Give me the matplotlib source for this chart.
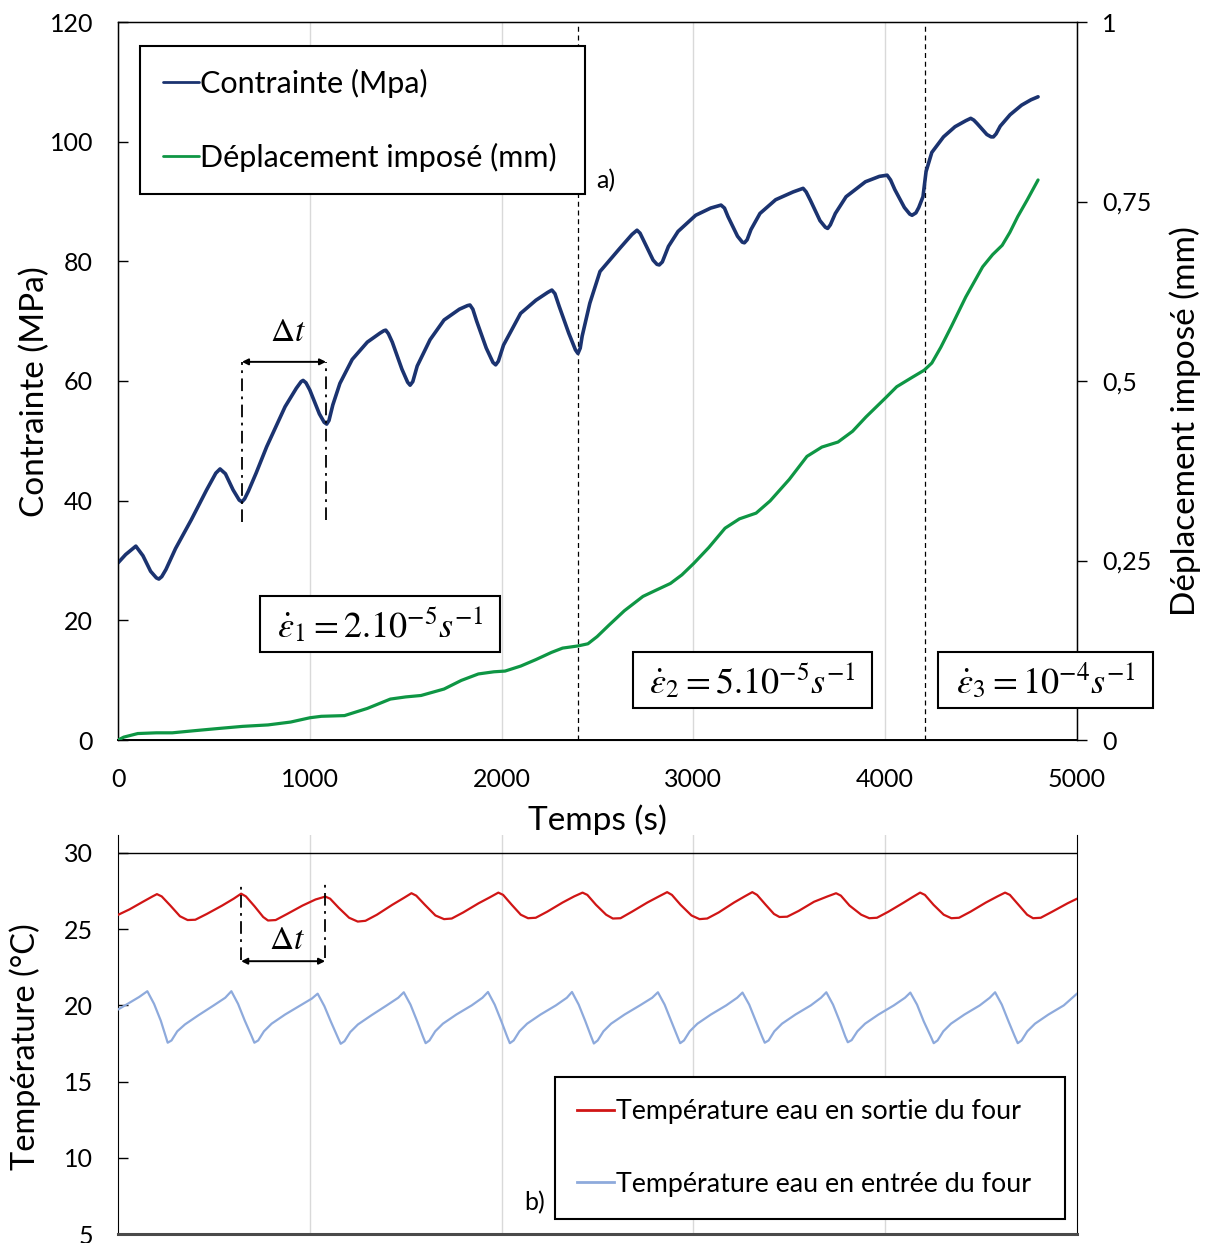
import matplotlib
matplotlib.use('Agg')
import matplotlib.pyplot as plt
from matplotlib.patches import Rectangle

# ---------------- data ----------------
stress_t = [0, 40, 93, 130, 170, 200, 213, 228, 250, 300, 382, 462, 510, 532, 560, 600, 632, 646, 660,
            680, 720, 775, 871, 930, 955, 965, 980, 1000, 1050, 1075, 1088, 1100, 1120, 1157, 1221, 1300,
            1366, 1386, 1396, 1410, 1430, 1480, 1510, 1523, 1537, 1560, 1627, 1700, 1780, 1822, 1835, 1850, 1870, 1920,
            1955, 1969, 1983, 2010, 2099, 2179, 2240, 2262, 2278, 2300, 2350, 2385, 2398, 2410, 2420, 2460, 2513,
            2617, 2680, 2706, 2722, 2740, 2790, 2810, 2822, 2838, 2870, 2920, 3012, 3090, 3144, 3162, 3180,
            3230, 3255, 3266, 3280, 3300, 3347, 3429, 3520, 3572, 3588, 3610, 3660, 3688, 3700, 3714, 3740, 3796,
            3897, 3970, 4010, 4028, 4050, 4100, 4128, 4140, 4160, 4175, 4197, 4213, 4243, 4304, 4364,
            4420, 4446, 4462, 4480, 4530, 4552, 4564, 4578, 4600, 4651, 4711, 4760, 4797]
stress_v = [29.6, 31.0, 32.4, 30.8, 28.2, 27.1, 26.9, 27.3, 28.5, 32.0, 36.8, 41.8, 44.6, 45.3, 44.5, 41.8, 40.1, 39.8, 40.3,
            41.6, 44.6, 49.0, 55.7, 58.8, 59.9, 60.1, 59.7, 58.5, 54.5, 53.1, 52.8, 53.4, 56.0, 59.6, 63.6, 66.5,
            68.0, 68.4, 68.5, 67.9, 66.5, 62.0, 59.8, 59.3, 59.9, 62.5, 66.9, 70.2, 72.0, 72.6, 72.7, 72.0, 70.0, 65.5,
            63.1, 62.7, 63.3, 66.0, 71.3, 73.5, 74.8, 75.2, 74.6, 72.5, 68.0, 65.2, 64.6, 65.5, 67.5, 73.0, 78.3,
            82.2, 84.5, 85.2, 84.7, 83.5, 80.2, 79.5, 79.4, 79.9, 82.5, 85.0, 87.7, 88.9, 89.4, 88.9, 87.5,
            84.2, 83.2, 83.1, 83.6, 85.3, 88.0, 90.3, 91.6, 92.2, 91.6, 90.2, 86.8, 85.7, 85.5, 86.1, 88.0, 90.8,
            93.3, 94.2, 94.4, 93.6, 92.0, 89.0, 87.9, 87.7, 88.1, 89.0, 90.8, 95.0, 98.2, 100.8, 102.5,
            103.5, 103.9, 103.6, 103.0, 101.2, 100.8, 100.8, 101.3, 102.6, 104.5, 106.1, 107.0, 107.5]

disp_t = [0, 30, 103, 200, 283, 400, 522, 650, 782, 900, 1001, 1060, 1181, 1300,
          1420, 1500, 1580, 1700, 1790, 1879, 1960, 2018, 2100, 2179, 2260, 2318,
          2398, 2450, 2498, 2560, 2640, 2737, 2800, 2880, 2940, 3002, 3080, 3165,
          3240, 3327, 3400, 3500, 3592, 3670, 3754, 3830, 3900, 4000, 4060, 4140,
          4203, 4243, 4290, 4345, 4420, 4508, 4560, 4610, 4650, 4691, 4740, 4797]
disp_v = [0.0, 0.004, 0.009, 0.010, 0.010, 0.013, 0.016, 0.019, 0.021, 0.025, 0.031, 0.033, 0.034, 0.044,
          0.057, 0.060, 0.062, 0.071, 0.083, 0.092, 0.095, 0.096, 0.103, 0.112, 0.122, 0.128,
          0.131, 0.134, 0.144, 0.160, 0.180, 0.200, 0.208, 0.218, 0.230, 0.246, 0.268, 0.295,
          0.308, 0.316, 0.333, 0.363, 0.395, 0.408, 0.415, 0.430, 0.450, 0.476, 0.492, 0.505,
          0.515, 0.525, 0.547, 0.576, 0.617, 0.659, 0.676, 0.689, 0.707, 0.729, 0.752, 0.780]

t_out_t = [0, 60, 130, 180,
           203, 228, 273, 323, 363, 403, 463, 543, 603,
           642, 667, 712, 757, 782, 822, 882, 962, 1030,
           1081, 1106, 1151, 1205, 1250, 1290, 1350, 1430, 1490,
           1530, 1555, 1600, 1655, 1700, 1740, 1800, 1880, 1940,
           1983, 2008, 2053, 2100, 2138, 2178, 2238, 2318, 2378,
           2422, 2447, 2492, 2545, 2580, 2620, 2680, 2760, 2820,
           2863, 2888, 2933, 2990, 3032, 3072, 3132, 3212, 3267,
           3307, 3332, 3377, 3420, 3449, 3489, 3549, 3629, 3699,
           3744, 3769, 3814, 3875, 3917, 3957, 4017, 4097, 4142,
           4182, 4207, 4252, 4305, 4345, 4385, 4445, 4525, 4585,
           4625, 4650, 4695, 4740, 4771, 4811, 4871, 4951, 5000]
t_out_v = [25.94, 26.3, 26.8, 27.15,
           27.3, 27.15, 26.55, 25.85, 25.6, 25.62, 26.0, 26.55, 27.0,
           27.33, 27.15, 26.5, 25.8, 25.57, 25.6, 26.0, 26.55, 26.95,
           27.14, 27.0, 26.4, 25.75, 25.5, 25.55, 25.95, 26.6, 27.05,
           27.36, 27.2, 26.6, 25.9, 25.66, 25.7, 26.1, 26.7, 27.1,
           27.4, 27.25, 26.6, 25.95, 25.72, 25.75, 26.15, 26.75, 27.15,
           27.4, 27.25, 26.6, 25.95, 25.7, 25.72, 26.15, 26.75, 27.15,
           27.43, 27.25, 26.6, 25.9, 25.66, 25.7, 26.1, 26.75, 27.15,
           27.43, 27.25, 26.6, 26.0, 25.8, 25.82, 26.2, 26.8, 27.15,
           27.36, 27.2, 26.55, 25.95, 25.72, 25.75, 26.15, 26.75, 27.1,
           27.4, 27.25, 26.6, 25.95, 25.72, 25.75, 26.15, 26.75, 27.15,
           27.4, 27.25, 26.6, 25.95, 25.72, 25.75, 26.15, 26.7, 27.0]

t_in_t = [0, 50, 110,
          153, 188, 223, 248, 259, 279, 309, 349, 419, 499, 559,
          591, 626, 661, 696, 711, 731, 761, 801, 871, 951, 1011,
          1041, 1076, 1111, 1146, 1161, 1181, 1211, 1251, 1321, 1401, 1461,
          1490, 1525, 1560, 1590, 1604, 1624, 1654, 1694, 1764, 1844, 1900,
          1929, 1964, 1999, 2029, 2043, 2063, 2093, 2133, 2203, 2283, 2340,
          2367, 2402, 2437, 2467, 2481, 2501, 2531, 2571, 2641, 2721, 2785,
          2815, 2850, 2885, 2917, 2931, 2951, 2981, 3021, 3091, 3171, 3228,
          3256, 3291, 3326, 3358, 3372, 3392, 3422, 3462, 3532, 3612, 3665,
          3693, 3728, 3763, 3792, 3805, 3825, 3855, 3895, 3965, 4045, 4103,
          4131, 4166, 4201, 4238, 4253, 4273, 4303, 4343, 4413, 4493, 4545,
          4573, 4608, 4643, 4676, 4691, 4711, 4741, 4781, 4851, 4931, 5000]
t_in_v = [19.73, 20.1, 20.55,
          20.93, 20.1, 19.0, 18.0, 17.55, 17.7, 18.3, 18.75, 19.35, 20.0, 20.5,
          20.93, 20.1, 19.0, 18.0, 17.55, 17.7, 18.3, 18.8, 19.4, 20.0, 20.45,
          20.77, 19.95, 18.9, 17.9, 17.48, 17.65, 18.25, 18.75, 19.35, 20.0, 20.5,
          20.86, 20.05, 18.95, 17.95, 17.52, 17.7, 18.3, 18.8, 19.4, 20.0, 20.5,
          20.88, 20.05, 18.95, 17.95, 17.52, 17.7, 18.3, 18.8, 19.4, 20.0, 20.5,
          20.88, 20.05, 18.95, 17.95, 17.5, 17.7, 18.3, 18.8, 19.4, 20.0, 20.5,
          20.86, 20.05, 18.95, 17.95, 17.52, 17.7, 18.3, 18.8, 19.4, 20.0, 20.5,
          20.84, 20.05, 18.95, 17.95, 17.55, 17.7, 18.3, 18.8, 19.4, 20.0, 20.5,
          20.86, 20.05, 18.95, 17.95, 17.58, 17.72, 18.3, 18.8, 19.4, 20.0, 20.5,
          20.84, 20.05, 18.95, 17.95, 17.52, 17.7, 18.3, 18.8, 19.4, 20.0, 20.5,
          20.86, 20.05, 18.95, 17.95, 17.52, 17.7, 18.3, 18.8, 19.4, 20.0, 20.77]

x_ticks = [0, 1000, 2000, 3000, 4000, 5000]
stress_ticks = [0, 20, 40, 60, 80, 100, 120]
disp_ticks = [0, 0.25, 0.5, 0.75, 1]
disp_ticklabels = ['0', '0,25', '0,5', '0,75', '1']
temp_ticks = [5, 10, 15, 20, 25, 30]
rate_changes = [2400, 4210]

# ---------------- style ----------------
plt.rcParams['font.family'] = ['Lato', 'DejaVu Sans']
plt.rcParams['mathtext.fontset'] = 'stix'

C_STRESS = '#1b3370'
C_DISP = '#0e9644'
C_OUT = '#d01515'
C_IN = '#8eaadc'
GRID = '#d9d9d9'

W, H = 1212, 1243
fig = plt.figure(figsize=(W / 100, H / 100), dpi=100)


def fx(px):
    return px / W


def fy(py):
    return 1 - py / H


ax = fig.add_axes([fx(118), fy(740), fx(1077) - fx(118), fy(22) - fy(740)])
ax2 = ax.twinx()
axb = fig.add_axes([fx(118), fy(1234), fx(1077) - fx(118), fy(834.7) - fy(1234)])

TICK_FS = 18
LABEL_FS = 24
LEG_FS = 22
LEGB_FS = 19.3
EQ_FS = 26
DT_FS = 24

# ---------- top panel ----------
ax.set_xlim(0, 5000)
ax.set_ylim(0, 120)
ax2.set_ylim(0, 1)
ax.set_xticks(x_ticks)
ax.set_yticks(stress_ticks)
ax2.set_yticks(disp_ticks)
ax2.set_yticklabels(disp_ticklabels)
ax.grid(axis='x', color=GRID, lw=1)
ax.grid(axis='y', visible=False)
ax.set_axisbelow(True)
ax.tick_params(axis='x', length=0, pad=20, labelsize=TICK_FS)
ax.tick_params(axis='y', direction='in', length=7, width=1, pad=18, labelsize=TICK_FS)
ax2.tick_params(axis='y', direction='out', length=7, width=1, pad=11, labelsize=TICK_FS)
for sp in ax.spines.values():
    sp.set_color('black')
    sp.set_linewidth(1)
ax2.spines['right'].set_color('black')
ax.spines['bottom'].set_linewidth(1.4)

for tc in rate_changes:
    ax.axvline(tc, color='black', lw=0.9, ls=(0, (4, 3)), zorder=1)

l1, = ax.plot(stress_t, stress_v, color=C_STRESS, lw=2.6, solid_joinstyle='round',
              solid_capstyle='round', zorder=3)
l2, = ax2.plot(disp_t, disp_v, color=C_DISP, lw=2.3, solid_joinstyle='round',
               solid_capstyle='round', zorder=3)

ax.set_xlabel('Temps (s)', fontsize=LABEL_FS, va='center')
ax.xaxis.set_label_coords((597 - 118) / 959, -(820 - 740) / 718)
ax.set_ylabel('Contrainte (MPa)', fontsize=LABEL_FS, va='center')
ax.yaxis.set_label_coords((35 - 118) / 959, 1 - (392 - 22) / 718)
ax2.set_ylabel('Déplacement imposé (mm)', fontsize=LABEL_FS, rotation=90, va='center')
ax2.yaxis.set_label_coords((1185 - 118) / 959, 1 - (421 - 22) / 718)

leg = ax2.legend([l1, l2], ['Contrainte (Mpa)', 'Déplacement imposé (mm)'],
                 loc='upper left', mode='expand',
                 bbox_to_anchor=(fx(140), fy(195), fx(585) - fx(140), fy(46) - fy(195)),
                 bbox_transform=fig.transFigure, borderaxespad=0, fontsize=LEG_FS,
                 handlelength=1.18, handletextpad=0.06, labelspacing=1.47, borderpad=0.74,
                 fancybox=False, framealpha=1, edgecolor='black')
leg.get_frame().set_linewidth(1.5)
for h in leg.legend_handles:
    h.set_linewidth(2)

# delta t annotation (top)
dash_dot = (0, (7, 3, 1.5, 3))
ax.plot([646, 646], [36.4, 63.2], color='black', lw=1.3, ls=dash_dot, zorder=4)
ax.plot([1085, 1085], [36.8, 63.2], color='black', lw=1.3, ls=dash_dot, zorder=4)
ax.annotate('', xy=(1085, 63.2), xytext=(646, 63.2),
            arrowprops=dict(arrowstyle='<|-|>', color='black', lw=1.4,
                            mutation_scale=9, shrinkA=0, shrinkB=0))
ax.text(886, 68.2, r'$\Delta t$', fontsize=DT_FS, ha='center', va='center')

fig.text(fx(596), fy(181), 'a)', fontsize=TICK_FS, ha='left', va='center')

# ---------- bottom panel ----------
axb.set_xlim(0, 5000)
axb.set_ylim(5, 31.2)
axb.set_xticks([1000, 2000, 3000, 4000])
axb.set_yticks(temp_ticks)
axb.tick_params(axis='x', length=0, labelbottom=False)
axb.tick_params(axis='y', direction='in', length=7, width=1, pad=18, labelsize=TICK_FS)
axb.grid(axis='x', color=GRID, lw=1)
axb.set_axisbelow(True)
axb.spines['top'].set_visible(False)
axb.spines['left'].set_color('black')
axb.spines['right'].set_color('black')
axb.spines['bottom'].set_color('#4a4a4a')
axb.spines['bottom'].set_linewidth(2.2)
axb.axhline(30, color='black', lw=1, zorder=2)

l3, = axb.plot(t_out_t, t_out_v, color=C_OUT, lw=1.6, solid_joinstyle='round', zorder=3)
l4, = axb.plot(t_in_t, t_in_v, color=C_IN, lw=1.6, solid_joinstyle='round', zorder=3)

axb.set_ylabel('Température (°C)', fontsize=23.4, va='center')
axb.yaxis.set_label_coords((25 - 118) / 959, 1 - (1047 - 834.7) / 399.3)

legb = axb.legend([l3, l4], ['Température eau en sortie du four',
                             'Température eau en entrée du four'],
                  loc='upper left', mode='expand',
                  bbox_to_anchor=(fx(555), fy(1222), fx(1065) - fx(555), fy(1077) - fy(1222)),
                  bbox_transform=fig.transFigure, borderaxespad=0, fontsize=LEGB_FS,
                  handlelength=1.38, handletextpad=0.08, labelspacing=1.77, borderpad=0.83,
                  fancybox=False, framealpha=1, edgecolor='black')
legb.get_frame().set_linewidth(1.5)
for h in legb.legend_handles:
    h.set_linewidth(2)

axb.plot([642, 642], [23.0, 28.0], color='black', lw=1.3, ls=dash_dot, zorder=4)
axb.plot([1080, 1080], [23.1, 28.2], color='black', lw=1.3, ls=dash_dot, zorder=4)
axb.annotate('', xy=(1080, 22.9), xytext=(642, 22.9),
             arrowprops=dict(arrowstyle='<|-|>', color='black', lw=1.4,
                             mutation_scale=9, shrinkA=0, shrinkB=0))
axb.text(881, 24.3, r'$\Delta t$', fontsize=DT_FS, ha='center', va='center')

fig.text(fx(524), fy(1203), 'b)', fontsize=TICK_FS, ha='left', va='center')

# ---------- strain-rate boxes ----------
boxes = [((260, 596, 500, 652), r'$\dot{\varepsilon}_1 = 2.10^{-5}s^{-1}$'),
         ((633, 652, 872, 708), r'$\dot{\varepsilon}_2 = 5.10^{-5}s^{-1}$'),
         ((938, 652, 1153, 708), r'$\dot{\varepsilon}_3 = 10^{-4}s^{-1}$')]
for (x0, y0, x1, y1), txt in boxes:
    fig.patches.append(Rectangle((fx(x0), fy(y1)), fx(x1) - fx(x0), fy(y0) - fy(y1),
                                 transform=fig.transFigure, facecolor='white',
                                 edgecolor='black', lw=1.5, zorder=10))
    fig.text(fx((x0 + x1) / 2), fy((y0 + y1) / 2), txt, fontsize=EQ_FS,
             ha='center', va='center', zorder=11)

fig.savefig('out.png', dpi=100)
